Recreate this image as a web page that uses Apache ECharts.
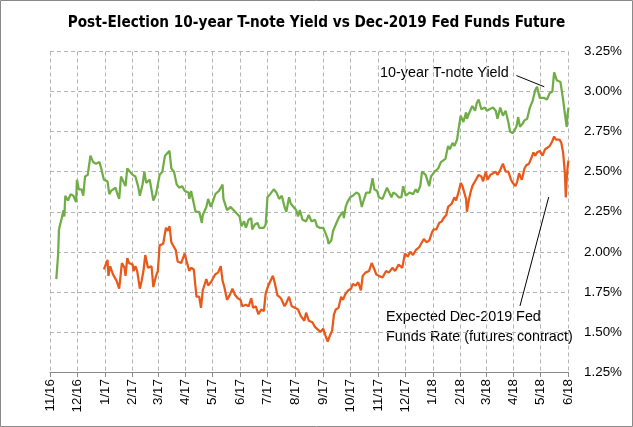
<!DOCTYPE html>
<html><head><meta charset="utf-8">
<script src="https://cdn.jsdelivr.net/npm/echarts@6/dist/echarts.min.js"></script>
<style>html,body{margin:0;padding:0;background:#fff}#c{width:633px;height:427px}</style>
</head><body><div id="c"></div><script>
const chartTitle = 'Post-Election 10-year T-note Yield vs Dec-2019 Fed Funds Future';
const startDate = '2016-11-01', endDate = '2018-06-01';
const monthStarts = ['2016-11-01','2016-12-01','2017-01-01','2017-02-01','2017-03-01','2017-04-01','2017-05-01','2017-06-01','2017-07-01','2017-08-01','2017-09-01','2017-10-01','2017-11-01','2017-12-01','2018-01-01','2018-02-01','2018-03-01','2018-04-01','2018-05-01','2018-06-01'];
const monthLabels = ['11/16','12/16','1/17','2/17','3/17','4/17','5/17','6/17','7/17','8/17','9/17','10/17','11/17','12/17','1/18','2/18','3/18','4/18','5/18','6/18'];
const yMin = 1.25, yMax = 3.25, yStep = 0.25;

const tnoteYield = [
['2016-11-08',1.83],['2016-11-10',1.98],['2016-11-11',2.14],['2016-11-14',2.21],['2016-11-16',2.26],['2016-11-17',2.22],['2016-11-18',2.35],['2016-11-21',2.32],['2016-11-24',2.36],['2016-11-27',2.35],['2016-11-30',2.31],
['2016-12-01',2.45],['2016-12-03',2.39],['2016-12-06',2.39],['2016-12-08',2.35],['2016-12-10',2.47],['2016-12-13',2.48],['2016-12-16',2.60],['2016-12-19',2.56],['2016-12-22',2.55],['2016-12-26',2.56],['2016-12-28',2.52],['2016-12-31',2.45],
['2017-01-04',2.44],['2017-01-06',2.36],['2017-01-08',2.38],['2017-01-10',2.37],['2017-01-13',2.40],['2017-01-15',2.36],['2017-01-17',2.33],['2017-01-19',2.47],['2017-01-21',2.46],['2017-01-24',2.41],['2017-01-26',2.52],['2017-01-29',2.50],
['2017-02-01',2.48],['2017-02-04',2.47],['2017-02-07',2.41],['2017-02-09',2.35],['2017-02-12',2.42],['2017-02-14',2.50],['2017-02-16',2.43],['2017-02-20',2.45],['2017-02-24',2.32],['2017-02-27',2.36],
['2017-03-01',2.37],['2017-03-03',2.48],['2017-03-06',2.50],['2017-03-09',2.60],['2017-03-11',2.59],['2017-03-14',2.63],['2017-03-16',2.52],['2017-03-19',2.50],['2017-03-22',2.42],['2017-03-25',2.40],['2017-03-28',2.41],['2017-03-31',2.38],
['2017-04-04',2.37],['2017-04-05',2.33],['2017-04-07',2.38],['2017-04-09',2.38],['2017-04-12',2.25],['2017-04-16',2.25],['2017-04-19',2.18],['2017-04-20',2.23],['2017-04-24',2.28],['2017-04-26',2.33],['2017-04-29',2.28],
['2017-05-01',2.31],['2017-05-04',2.36],['2017-05-08',2.38],['2017-05-12',2.42],['2017-05-13',2.33],['2017-05-17',2.26],['2017-05-21',2.28],['2017-05-26',2.25],['2017-05-31',2.22],
['2017-06-02',2.16],['2017-06-05',2.19],['2017-06-07',2.15],['2017-06-10',2.20],['2017-06-13',2.21],['2017-06-14',2.14],['2017-06-17',2.17],['2017-06-20',2.18],['2017-06-22',2.15],['2017-06-27',2.15],['2017-06-29',2.17],
['2017-07-01',2.34],['2017-07-04',2.36],['2017-07-08',2.39],['2017-07-11',2.37],['2017-07-14',2.33],['2017-07-17',2.35],['2017-07-20',2.28],['2017-07-22',2.25],['2017-07-25',2.34],['2017-07-27',2.30],['2017-07-30',2.28],
['2017-08-02',2.26],['2017-08-04',2.22],['2017-08-06',2.26],['2017-08-09',2.20],['2017-08-13',2.19],['2017-08-16',2.23],['2017-08-19',2.19],['2017-08-23',2.20],['2017-08-25',2.16],['2017-08-28',2.15],
['2017-09-01',2.15],['2017-09-04',2.11],['2017-09-06',2.08],['2017-09-07',2.05],['2017-09-10',2.07],['2017-09-12',2.13],['2017-09-15',2.17],['2017-09-19',2.22],['2017-09-23',2.25],['2017-09-24',2.21],['2017-09-26',2.28],['2017-09-28',2.31],
['2017-10-01',2.34],['2017-10-04',2.35],['2017-10-08',2.37],['2017-10-11',2.36],['2017-10-14',2.28],['2017-10-16',2.32],['2017-10-19',2.37],['2017-10-21',2.38],['2017-10-23',2.37],['2017-10-26',2.46],['2017-10-28',2.39],['2017-10-31',2.38],
['2017-11-02',2.34],['2017-11-06',2.33],['2017-11-08',2.33],['2017-11-11',2.40],['2017-11-13',2.41],['2017-11-16',2.34],['2017-11-18',2.37],['2017-11-21',2.36],['2017-11-24',2.34],['2017-11-27',2.34],['2017-11-29',2.41],
['2017-12-02',2.35],['2017-12-06',2.37],['2017-12-10',2.36],['2017-12-13',2.39],['2017-12-15',2.37],['2017-12-18',2.41],['2017-12-20',2.50],['2017-12-24',2.48],['2017-12-28',2.41],['2017-12-30',2.47],
['2018-01-03',2.50],['2018-01-07',2.52],['2018-01-10',2.56],['2018-01-15',2.58],['2018-01-18',2.66],['2018-01-20',2.64],['2018-01-23',2.68],['2018-01-25',2.66],['2018-01-28',2.70],['2018-01-30',2.78],
['2018-02-01',2.85],['2018-02-04',2.81],['2018-02-07',2.87],['2018-02-08',2.83],['2018-02-10',2.86],['2018-02-14',2.91],['2018-02-17',2.88],['2018-02-19',2.93],['2018-02-21',2.95],['2018-02-24',2.89],['2018-02-28',2.90],
['2018-03-02',2.88],['2018-03-05',2.89],['2018-03-09',2.90],['2018-03-12',2.88],['2018-03-14',2.83],['2018-03-17',2.90],['2018-03-20',2.85],['2018-03-23',2.88],['2018-03-26',2.81],['2018-03-28',2.75],['2018-03-31',2.74],
['2018-04-04',2.78],['2018-04-06',2.84],['2018-04-08',2.78],['2018-04-11',2.80],['2018-04-13',2.82],['2018-04-16',2.83],['2018-04-19',2.90],['2018-04-22',2.94],['2018-04-25',3.01],['2018-04-27',3.03],['2018-04-30',2.96],
['2018-05-02',2.95],['2018-05-05',2.96],['2018-05-08',2.95],['2018-05-11',2.99],['2018-05-14',3.00],['2018-05-16',3.12],['2018-05-19',3.07],['2018-05-21',3.07],['2018-05-23',3.06],['2018-05-26',2.95],['2018-05-28',2.86],['2018-05-30',2.78],['2018-05-31',2.86],['2018-06-01',2.90]
];

const fedFundsFuture = [
['2016-12-31',1.89],['2017-01-02',1.92],['2017-01-04',1.95],['2017-01-05',1.85],['2017-01-07',1.91],['2017-01-10',1.86],['2017-01-12',1.85],['2017-01-14',1.82],['2017-01-17',1.77],['2017-01-20',1.93],['2017-01-23',1.90],['2017-01-24',1.85],['2017-01-26',1.96],['2017-01-28',1.93],
['2017-02-01',1.92],['2017-02-02',1.88],['2017-02-04',1.91],['2017-02-06',1.88],['2017-02-09',1.77],['2017-02-11',1.82],['2017-02-13',1.88],['2017-02-15',1.98],['2017-02-18',1.90],['2017-02-22',1.91],['2017-02-24',1.78],['2017-02-27',1.85],
['2017-03-01',1.88],['2017-03-03',2.04],['2017-03-07',2.05],['2017-03-10',2.15],['2017-03-12',2.13],['2017-03-14',2.16],['2017-03-16',2.06],['2017-03-19',2.03],['2017-03-21',2.01],['2017-03-23',1.94],['2017-03-25',1.95],['2017-03-27',1.93],['2017-03-29',1.96],['2017-03-31',1.99],
['2017-04-02',1.94],['2017-04-05',1.88],['2017-04-07',1.90],['2017-04-10',1.89],['2017-04-13',1.72],['2017-04-16',1.72],['2017-04-18',1.65],['2017-04-20',1.76],['2017-04-24',1.83],['2017-04-26',1.79],['2017-04-29',1.81],
['2017-05-01',1.80],['2017-05-04',1.86],['2017-05-07',1.87],['2017-05-10',1.91],['2017-05-12',1.82],['2017-05-14',1.78],['2017-05-17',1.70],['2017-05-20',1.73],['2017-05-23',1.77],['2017-05-26',1.73],['2017-05-29',1.71],
['2017-06-01',1.70],['2017-06-03',1.66],['2017-06-07',1.67],['2017-06-10',1.66],['2017-06-13',1.71],['2017-06-15',1.65],['2017-06-18',1.66],['2017-06-21',1.61],['2017-06-24',1.64],['2017-06-27',1.63],['2017-06-29',1.74],
['2017-07-02',1.79],['2017-07-07',1.85],['2017-07-09',1.81],['2017-07-12',1.73],['2017-07-16',1.71],['2017-07-20',1.66],['2017-07-22',1.68],['2017-07-25',1.72],['2017-07-28',1.66],
['2017-08-01',1.65],['2017-08-04',1.64],['2017-08-07',1.60],['2017-08-11',1.57],['2017-08-13',1.62],['2017-08-16',1.57],['2017-08-20',1.56],['2017-08-23',1.53],['2017-08-25',1.52],['2017-08-29',1.50],
['2017-09-01',1.52],['2017-09-04',1.47],['2017-09-06',1.44],['2017-09-08',1.47],['2017-09-11',1.51],['2017-09-13',1.61],['2017-09-15',1.64],['2017-09-18',1.65],['2017-09-21',1.72],['2017-09-23',1.70],['2017-09-26',1.74],['2017-09-29',1.76],
['2017-10-02',1.77],['2017-10-04',1.80],['2017-10-07',1.79],['2017-10-10',1.81],['2017-10-13',1.76],['2017-10-15',1.85],['2017-10-18',1.87],['2017-10-22',1.88],['2017-10-25',1.93],['2017-10-28',1.89],['2017-10-30',1.86],
['2017-11-02',1.85],['2017-11-06',1.84],['2017-11-10',1.88],['2017-11-13',1.87],['2017-11-17',1.90],['2017-11-20',1.88],['2017-11-24',1.92],['2017-11-28',1.90],
['2017-12-01',1.99],['2017-12-04',1.97],['2017-12-07',2.00],['2017-12-10',1.98],['2017-12-13',2.01],['2017-12-17',2.03],['2017-12-19',2.05],['2017-12-22',2.08],['2017-12-25',2.06],['2017-12-28',2.07],['2017-12-31',2.12],
['2018-01-02',2.14],['2018-01-05',2.14],['2018-01-08',2.18],['2018-01-11',2.19],['2018-01-13',2.21],['2018-01-16',2.23],['2018-01-18',2.28],['2018-01-22',2.30],['2018-01-25',2.34],['2018-01-27',2.32],['2018-01-30',2.38],
['2018-02-01',2.43],['2018-02-03',2.41],['2018-02-06',2.35],['2018-02-07',2.33],['2018-02-08',2.25],['2018-02-10',2.32],['2018-02-12',2.37],['2018-02-14',2.41],['2018-02-17',2.44],['2018-02-19',2.43],['2018-02-21',2.48],['2018-02-24',2.47],['2018-02-26',2.44],
['2018-03-01',2.50],['2018-03-03',2.45],['2018-03-06',2.48],['2018-03-09',2.49],['2018-03-12',2.50],['2018-03-14',2.48],['2018-03-17',2.51],['2018-03-20',2.55],['2018-03-23',2.50],['2018-03-26',2.50],['2018-03-29',2.45],['2018-03-31',2.43],
['2018-04-03',2.41],['2018-04-05',2.44],['2018-04-07',2.49],['2018-04-10',2.45],['2018-04-11',2.47],['2018-04-13',2.52],['2018-04-15',2.54],['2018-04-18',2.55],['2018-04-21',2.59],['2018-04-23',2.62],['2018-04-25',2.60],['2018-04-27',2.62],['2018-04-30',2.63],
['2018-05-03',2.60],['2018-05-06',2.64],['2018-05-08',2.65],['2018-05-11',2.66],['2018-05-14',2.69],['2018-05-16',2.72],['2018-05-18',2.70],['2018-05-19',2.71],['2018-05-22',2.70],['2018-05-24',2.68],['2018-05-26',2.62],['2018-05-28',2.49],['2018-05-29',2.34],['2018-05-30',2.45],['2018-05-31',2.53],['2018-06-01',2.57]
];

const yieldNote = '10-year T-note Yield';
const fedNote = ['Expected Dec-2019 Fed', 'Funds Rate (futures contract)'];
const yieldArrow = [['2018-04-04', 3.10], ['2018-05-05', 3.03]];
const fedArrow = [['2018-04-08', 1.662], ['2018-05-10', 2.342]];

// build the daily category axis
const days = [];
for (let t = Date.parse(startDate + 'T00:00:00Z'); t <= Date.parse(endDate + 'T00:00:00Z'); t += 86400000) {
  days.push(new Date(t).toISOString().slice(0, 10));
}
const dayIndex = {};
days.forEach((d, i) => dayIndex[d] = i);
const toXY = arr => arr.map(([d, v]) => [dayIndex[d], v]);
const isMonthStart = (i) => monthStarts.indexOf(days[i]) >= 0;
const arrowLine = a => [{coord: [dayIndex[a[0][0]], a[0][1]]}, {coord: [dayIndex[a[1][0]], a[1][1]]}];

const ctx = document.createElement('canvas').getContext('2d');
function measure(text, font) { ctx.font = font; return ctx.measureText(text).width; }
function available(name) {
  const s = 'abcdefghijklmnopqrstuvwxyz0123456789';
  return measure(s, '100px "' + name + '", monospace') !== measure(s, '100px monospace');
}
function fit(text, weight, family, target) {
  return 100 * target / measure(text, weight + ' 100px ' + family);
}
const FAM = '"Liberation Sans", Arial, sans-serif';
const narrow = ['Liberation Sans Narrow', 'DejaVu Sans Condensed', 'Roboto Condensed', 'Open Sans Condensed'].find(available);
const TITLE_FAM = narrow ? ('"' + narrow + '", ' + FAM) : FAM;
const titleSize = Math.min(19, fit(chartTitle, 'bold', TITLE_FAM, 498));
const noteSize = fit(fedNote[1], 'normal', FAM, 187);
const tickSize = fit('3.25%', 'normal', FAM, 38);

const chart = echarts.init(document.getElementById('c'), null, {renderer: 'canvas'});
const gridColor = '#b4b4b4';
chart.setOption({
  animation: false,
  backgroundColor: '#fff',
  title: {
    text: chartTitle, left: 'center', top: 11,
    textStyle: {fontFamily: TITLE_FAM, fontWeight: 'bold', fontSize: titleSize, color: '#000'}
  },
  grid: {left: 50, right: 64.5, top: 51.5, bottom: 55},
  xAxis: {
    type: 'category', data: days, boundaryGap: false,
    axisLine: {lineStyle: {color: '#898989', width: 1}},
    axisTick: {interval: isMonthStart, length: 5, lineStyle: {color: '#898989'}},
    axisLabel: {
      interval: isMonthStart, rotate: 90, margin: 7,
      formatter: (v) => monthLabels[monthStarts.indexOf(v)],
      fontFamily: FAM, fontSize: tickSize, color: '#000'
    },
    splitLine: {show: true, interval: isMonthStart, lineStyle: {color: gridColor, type: [4, 3], width: 1}}
  },
  yAxis: {
    type: 'value', position: 'right', min: yMin, max: yMax, interval: yStep,
    axisLine: {show: false}, axisTick: {show: false},
    axisLabel: {formatter: v => v.toFixed(2) + '%', align: 'right', margin: 53.5, fontFamily: FAM, fontSize: tickSize, color: '#000'},
    splitLine: {lineStyle: {color: gridColor, type: [4, 3], width: 1}}
  },
  series: [
    {
      name: '10-year T-note Yield', type: 'line', data: toXY(tnoteYield), symbol: 'none',
      lineStyle: {color: '#70AD47', width: 2.25}, itemStyle: {color: '#70AD47'}, z: 3,
      markLine: {silent: true, symbol: ['none', 'arrow'], symbolSize: [0, 9], label: {show: false},
        lineStyle: {color: '#000', width: 1, type: 'solid'}, data: [arrowLine(yieldArrow)]}
    },
    {
      name: 'Expected Dec-2019 Fed Funds Rate', type: 'line', data: toXY(fedFundsFuture), symbol: 'none',
      lineStyle: {color: '#E8591A', width: 2.25}, itemStyle: {color: '#E8591A'}, z: 3,
      markLine: {silent: true, symbol: ['none', 'arrow'], symbolSize: [0, 9], label: {show: false},
        lineStyle: {color: '#000', width: 1, type: 'solid'}, data: [arrowLine(fedArrow)]}
    }
  ],
  graphic: [
    {type: 'text', x: 380, y: 73, silent: true, style: {text: yieldNote, fill: '#000', font: noteSize + 'px ' + FAM, align: 'left', verticalAlign: 'middle'}},
    {type: 'text', x: 386, y: 317, silent: true, style: {text: fedNote[0], fill: '#000', font: noteSize + 'px ' + FAM, align: 'left', verticalAlign: 'middle'}},
    {type: 'text', x: 386, y: 337, silent: true, style: {text: fedNote[1], fill: '#000', font: noteSize + 'px ' + FAM, align: 'left', verticalAlign: 'middle'}},
    {type: 'rect', silent: true, z: 100, shape: {x: 0.5, y: 0.5, width: 632, height: 426}, style: {fill: 'none', stroke: '#898989', lineWidth: 1}}
  ]
});
</script></body></html>
